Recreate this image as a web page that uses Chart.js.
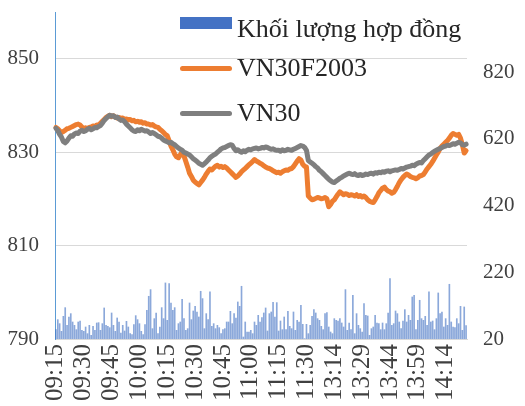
<!DOCTYPE html>
<html>
<head>
<meta charset="utf-8">
<script src="https://cdn.jsdelivr.net/npm/chart.js@4/dist/chart.umd.min.js"></script>
<style>
  html, body { margin: 0; padding: 0; background: #ffffff; }
  #wrap { position: relative; width: 525px; height: 406px; overflow: hidden; }
  #legend { position: absolute; left: 0; top: 0; width: 525px; height: 406px; pointer-events: none;
            font-family: "Liberation Serif", serif; font-size: 26px; color: #262626; }
  .lg-row { position: absolute; left: 180px; white-space: nowrap; }
  .lg-sw { position: absolute; left: 0; width: 52px; }
  .lg-tx { position: absolute; left: 57px; line-height: 26px; }
</style>
</head>
<body>
<div id="wrap">
  <canvas id="c" width="525" height="406"></canvas>
  <div id="legend"></div>
</div>
<script>
// ---- categories (trading minutes) ----
const sessions = [["09:15", "11:30"], ["13:00", "14:25"]];
const tickLabels = ["09:15","09:30","09:45","10:00","10:15","10:30","10:45","11:00","11:15","11:30","13:14","13:29","13:44","13:59","14:14"];
const categories = [];
for (const [a, b] of sessions) {
  let [h, m] = a.split(":").map(Number);
  const [eh, em] = b.split(":").map(Number);
  while (h < eh || (h === eh && m <= em)) {
    categories.push(String(h).padStart(2, "0") + ":" + String(m).padStart(2, "0"));
    m++; if (m === 60) { m = 0; h++; }
  }
}

// ---- series ----
const seriesNames = ["Khối lượng hợp đồng", "VN30F2003", "VN30"];

const volume = [48,78,66,43,88,114,61,86,96,71, 61,48,71,74,46,43,56,36,61,31,
  58,46,68,69,46,66,113,61,58,54, 98,61,43,83,71,38,61,44,73,56,
  36,33,63,90,78,66,43,33,63,106, 148,168,51,81,98,36,56,114,81,188,
  76,186,128,106,114,46,66,71,139,81, 46,51,128,78,104,118,101,86,163,141,
  51,96,78,161,58,66,51,61,54,36, 48,51,71,71,103,66,96,83,131,118,
  178,26,71,41,41,46,36,71,61,91, 71,84,98,113,44,96,101,130,86,129,
  44,74,48,86,48,103,58,51,101,46, 76,71,121,64,21,64,36,61,88,108,
  98,81,76,58,48,96,99,56,41,36, 81,76,74,81,68,56,168,46,68,48,
  151,36,96,61,51,41,126,91,89,31, 51,56,91,68,66,48,68,48,66,98,
  201,61,66,104,96,71,51,74,108,71, 91,76,146,151,48,76,136,81,76,88,
  61,161,71,74,48,81,158,96,101,56, 81,61,184,71,56,54,81,66,118,46,
  116,60];

const vn30f = [835.3,835.0,834.6,834.2,834.4,834.7,835.0,835.1,835.3,835.5,
  835.7,835.9,836.0,835.8,835.4,835.0,835.2,835.1,835.3,835.4,
  835.6,835.5,835.8,835.8,836.2,836.6,837.0,837.4,837.7,837.9,
  837.6,837.8,837.5,837.3,837.4,837.2,837.3,837.0,837.1,836.9,
  837.0,836.7,836.8,836.5,836.6,836.4,836.5,836.2,836.3,836.0,
  836.0,835.8,835.9,835.6,835.4,835.3,834.9,834.6,834.2,833.8,
  833.5,832.4,831.3,830.5,829.6,829.0,828.8,829.4,830.0,829.2,
  828.0,826.8,825.5,824.8,824.0,823.6,823.3,823.0,823.5,824.0,
  824.6,825.3,825.9,826.4,826.2,826.6,827.0,827.2,826.8,827.0,
  826.7,826.9,826.6,826.2,825.8,825.4,825.0,824.6,824.9,825.3,
  825.8,826.2,826.5,826.9,827.3,827.6,828.0,828.4,828.1,827.9,
  827.6,827.4,827.1,826.8,826.6,826.5,826.3,826.0,825.8,825.6,
  825.7,825.5,825.8,826.0,826.2,826.1,826.4,826.5,826.9,827.5,
  828.1,828.6,828.3,827.4,827.0,826.8,820.6,820.2,819.8,819.9,
  820.1,820.3,820.2,820.0,820.1,820.3,820.0,818.3,818.8,819.5,
  819.8,820.4,821.0,821.5,821.2,820.9,821.1,821.0,820.7,820.9,
  820.8,820.6,820.9,820.5,820.7,820.4,820.6,820.3,819.8,819.5,
  819.3,819.2,819.8,820.5,821.3,821.8,822.3,822.5,822.0,821.7,
  821.5,821.2,821.4,822.0,822.7,823.5,824.1,824.6,825.0,825.3,
  825.1,824.8,824.6,824.5,824.3,824.5,824.9,825.0,825.2,825.8,
  826.4,826.9,827.4,828.0,828.7,829.4,830.0,830.8,831.3,831.7,
  832.1,832.5,833.0,833.6,834.0,833.8,833.6,833.8,833.0,831.6,
  829.8,830.3];

const vn30 = [835.1,834.6,833.8,833.2,832.3,832.0,832.4,833.0,833.5,833.4,
  833.9,834.1,834.0,834.5,834.7,834.4,834.6,834.9,835.1,834.8,
  835.0,835.3,835.2,835.5,835.7,836.2,836.8,837.2,837.6,837.9,
  837.7,837.8,837.4,837.5,837.1,836.8,836.9,836.5,836.0,835.6,
  835.2,834.8,834.5,834.4,834.8,834.6,834.9,834.7,834.5,834.6,
  834.3,834.0,834.2,834.0,833.7,833.4,833.3,833.0,832.6,832.4,
  832.2,832.0,832.1,831.8,831.6,831.2,830.9,830.6,830.4,830.0,
  829.8,829.6,829.4,829.0,828.6,828.3,828.0,827.6,827.4,827.2,
  827.5,827.9,828.3,828.8,829.1,829.4,829.6,830.0,830.3,830.7,
  830.9,831.0,831.2,831.4,831.6,831.5,830.8,830.3,830.5,830.2,
  830.0,830.3,830.1,830.4,830.6,830.5,830.7,830.8,830.9,830.7,
  830.8,831.0,830.9,831.1,831.0,830.8,830.6,830.7,830.5,830.4,
  830.4,830.2,830.5,830.3,830.4,830.6,830.5,830.4,830.6,830.8,
  831.0,831.2,831.4,831.3,831.0,830.4,828.2,827.9,827.6,827.3,
  826.9,826.6,826.1,825.8,825.4,825.0,824.6,824.2,823.9,823.6,
  823.5,823.8,824.1,824.4,824.6,824.9,825.1,825.3,825.5,825.3,
  825.2,825.4,825.1,825.0,825.2,825.0,825.1,825.3,825.2,825.4,
  825.5,825.3,825.6,825.5,825.7,825.6,825.8,825.7,825.9,826.0,
  825.8,826.0,826.1,826.2,826.1,826.3,826.5,826.4,826.6,826.8,
  826.9,827.0,827.2,827.1,827.4,827.6,827.8,827.7,828.2,828.6,
  829.0,829.4,829.6,829.9,830.2,830.4,830.6,830.8,831.0,831.2,
  831.3,831.5,831.4,831.6,831.8,831.7,831.9,832.1,832.0,831.6,
  831.5,831.7];

// ---- axes ----
const leftTicks = [790, 810, 830, 850];
const leftRange = [790, 860];
const rightTicks = [20, 220, 420, 620, 820];
const rightRange = [20, 1000];

const colors = { volume: "rgba(68,114,196,0.62)", vn30f: "#ED7D31", vn30: "#7F7F7F" };
const FONT = "Liberation Serif";
const TXT = "#404040";
Chart.defaults.font.family = FONT;

function zeroPad(s) { s.paddingTop = 0; s.paddingBottom = 0; s.paddingLeft = 0; s.paddingRight = 0; }

function makeChart() {
  const chart = new Chart(document.getElementById("c"), {
    type: "bar",
    data: {
      labels: categories,
      datasets: [
        { type: "line", label: seriesNames[2], data: vn30, yAxisID: "y", order: 1,
          borderColor: colors.vn30, borderWidth: 5, pointRadius: 0, tension: 0,
          borderJoinStyle: "round", borderCapStyle: "round", fill: false },
        { type: "line", label: seriesNames[1], data: vn30f, yAxisID: "y", order: 2,
          borderColor: colors.vn30f, borderWidth: 5, pointRadius: 0, tension: 0,
          borderJoinStyle: "round", borderCapStyle: "round", fill: false },
        { type: "bar", label: seriesNames[0], data: volume, yAxisID: "y2", order: 3,
          backgroundColor: colors.volume, borderWidth: 0, barThickness: 1 }
      ]
    },
    options: {
      responsive: false,
      animation: false,
      events: [],
      layout: { padding: { top: 12, left: 0, right: 0, bottom: 0 } },
      plugins: { legend: { display: false }, tooltip: { enabled: false } },
      scales: {
        x: {
          type: "category",
          offset: true,
          grid: { display: false, drawTicks: false },
          border: { display: true, color: "#d9d9d9", width: 1 },
          afterFit: (s) => { s.height = 67; zeroPad(s); },
          ticks: {
            autoSkip: false, maxRotation: 90, minRotation: 90, padding: 5,
            color: TXT, font: { family: FONT, size: 25 },
            callback: function (v) {
              const lab = this.getLabelForValue(v);
              return tickLabels.includes(lab) ? lab : "";
            }
          }
        },
        y: {
          position: "left", min: leftRange[0], max: leftRange[1],
          grid: { color: "#d9d9d9", lineWidth: 1, drawTicks: false },
          border: { display: true, color: "#5B9BD5", width: 1 },
          afterFit: (s) => { s.width = 55; zeroPad(s); },
          afterBuildTicks: (s) => { s.ticks = leftTicks.map(v => ({ value: v })); },
          ticks: { padding: 16, color: TXT, font: { family: FONT, size: 21 } }
        },
        y2: {
          position: "right", min: rightRange[0], max: rightRange[1],
          grid: { display: false, drawTicks: false },
          border: { display: false },
          afterFit: (s) => { s.width = 58; zeroPad(s); },
          afterBuildTicks: (s) => { s.ticks = rightTicks.map(v => ({ value: v })); },
          ticks: { padding: 16, color: TXT, font: { family: FONT, size: 21 } }
        }
      }
    }
  });

  // ---- HTML legend built from datasets ----
  const lg = document.getElementById("legend");
  const order = [2, 1, 0];
  const rowTops = [17, 56, 101];
  order.forEach((di, k) => {
    const ds = chart.data.datasets[di];
    const row = document.createElement("div");
    row.className = "lg-row";
    row.style.top = rowTops[k] + "px";
    const sw = document.createElement("div");
    sw.className = "lg-sw";
    if (ds.type === "bar") {
      sw.style.top = "0px"; sw.style.height = "12px"; sw.style.background = "#4472C4";
    } else {
      sw.style.top = "10px"; sw.style.height = "5px"; sw.style.borderRadius = "3px";
      sw.style.background = ds.borderColor;
    }
    const tx = document.createElement("div");
    tx.className = "lg-tx";
    tx.style.top = "-1px";
    tx.textContent = ds.label;
    row.appendChild(sw); row.appendChild(tx);
    lg.appendChild(row);
  });
}

if (document.fonts && document.fonts.load) {
  Promise.all([document.fonts.load("21px 'Liberation Serif'"), document.fonts.load("25px 'Liberation Serif'")])
    .then(makeChart, makeChart);
} else {
  makeChart();
}
</script>
</body>
</html>
